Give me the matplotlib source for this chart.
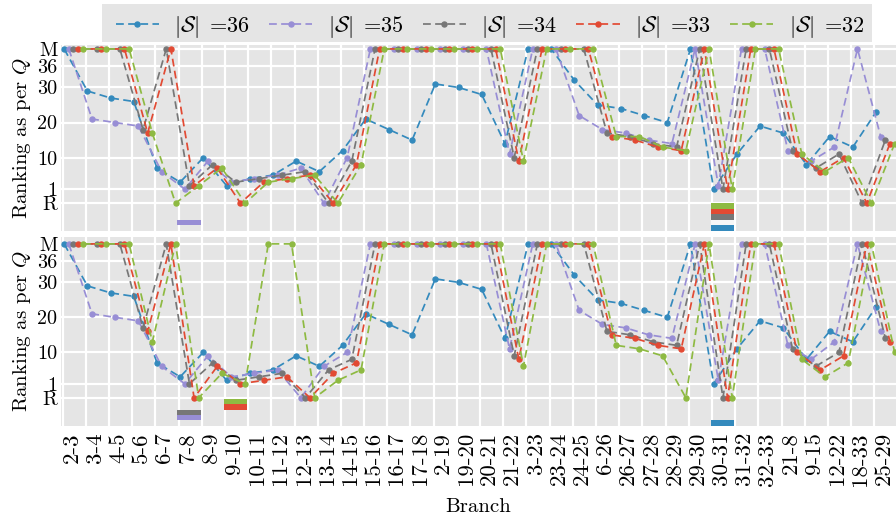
import matplotlib
matplotlib.use("Agg")
import matplotlib.pyplot as plt
from matplotlib.patches import Rectangle
import numpy as np

plt.style.use("ggplot")
plt.rcParams["font.family"] = ["cmr10", "DejaVu Serif"]
plt.rcParams["mathtext.fontset"] = "cm"
plt.rcParams["axes.unicode_minus"] = False
plt.rcParams["axes.formatter.use_mathtext"] = True

branches = ["2-3", "3-4", "4-5", "5-6", "6-7", "7-8", "8-9", "9-10", "10-11", "11-12",
            "12-13", "13-14", "14-15", "15-16", "16-17", "17-18", "2-19", "19-20", "20-21",
            "21-22", "3-23", "23-24", "24-25", "6-26", "26-27", "27-28", "28-29", "29-30",
            "30-31", "31-32", "32-33", "21-8", "9-15", "12-22", "18-33", "25-29"]

M = 41   # "M" level
R = -3   # "R" level

series_labels = [r"$|\mathcal{S}|\ \,$=36", r"$|\mathcal{S}|\ \,$=35", r"$|\mathcal{S}|\ \,$=34",
                 r"$|\mathcal{S}|\ \,$=33", r"$|\mathcal{S}|\ \,$=32"]
colors = ["#348ABD", "#988ED5", "#777777", "#E24A33", "#8EBA42"]

# ---- upper panel ----
top_s36 = [M, 29, 27, 26, 7, 3, 10, 2, 4, 5, 9, 6, 12, 21, 18, 15, 31, 30, 28, 14, M, M,
           32, 25, 24, 22, 20, M, 1, 11, 19, 17, 8, 16, 13, 23]
top_s35 = [M, 21, 20, 19, 6, 1, 9, 3, 4, 5, 7, R, 10, M, M, M, M, M, M, 11, M, M,
           22, 18, 17, 15, 14, M, 2, M, M, 12, 9, 13, M, 16]
top_s34 = [M, M, M, 18, M, 2, 8, 3, 4, 5, 6, R, 9, M, M, M, M, M, M, 10, M, M,
           M, 17, 16, 14, 13, M, 1, M, M, 12, 7, 11, R, 15]
top_s33 = [M, M, M, 17, M, 2, 7, R, 3, 4, 5, R, 8, M, M, M, M, M, M, 9, M, M,
           M, 16, 15, 13, 12, M, 1, M, M, 11, 6, 10, R, 14]
top_s32 = [M, M, M, 17, R, 2, 7, R, 3, 4, 5, R, 8, M, M, M, M, M, M, 9, M, M,
           M, 16, 16, 13, 12, M, 1, M, M, 11, 6, 10, R, 14]

# ---- lower panel ----
bot_s36 = [M, 29, 27, 26, 7, 3, 10, 2, 4, 5, 9, 6, 12, 21, 18, 15, 31, 30, 28, 14, M, M,
           32, 25, 24, 22, 20, M, 1, 11, 19, 17, 8, 16, 13, 23]
bot_s35 = [M, 21, 20, 19, 6, 1, 9, 3, 4, 5, R, 6, 10, M, M, M, M, M, M, 11, M, M,
           22, 18, 17, 15, 14, M, 2, M, M, 12, 8, 13, M, 16]
bot_s34 = [M, M, M, 17, M, 1, 7, 2, 3, 4, R, 5, 8, M, M, M, M, M, M, 9, M, M,
           M, 16, 15, 13, 12, M, R, M, M, 11, 6, 10, M, 14]
bot_s33 = [M, M, M, 16, M, R, 6, 1, 2, 3, R, 4, 7, M, M, M, M, M, M, 8, M, M,
           M, 15, 14, 12, 11, M, R, M, M, 10, 5, 9, M, 13]
bot_s32 = [M, M, M, 13, M, R, 4, 1, M, M, R, 2, 5, M, M, M, M, M, M, 6, M, M,
           M, 12, 11, 9, R, M, R, M, M, 8, 3, 7, M, 10]

# faint marker slots (series index, branch index) in the upper panel
top_faint = [(1, 28)]

ytick_vals = [R, 1, 10, 20, 30, 36, M]
ytick_labels = ["R", "1", "10", "20", "30", "36", "M"]

fig = plt.figure(figsize=(8.96, 5.18), dpi=100)
ax1 = fig.add_axes([0.068, 0.555, 0.932, 0.358])
ax2 = fig.add_axes([0.068, 0.178, 0.932, 0.364])

x = np.arange(len(branches))
offsets = [0.07 + 0.2 * k for k in range(5)]
bar_h = 1.55


def draw(ax, data, ylim, faint=()):
    ax.set_facecolor("#E5E5E5")
    handles = []
    for k, (vals, c, lab) in enumerate(zip(data, colors, series_labels)):
        h, = ax.plot(x + offsets[k], vals, linestyle="--", color=c, marker="o",
                     markersize=3.6, linewidth=1.25, label=lab, dashes=(4.5, 2.5))
        handles.append(h)
        # hit bars where rank == 1 (blue lowest, green highest)
        level = k
        for i, v in enumerate(vals):
            if v == 1:
                ax.bar(i - 0.05, bar_h, width=1.0, bottom=ylim[0] + bar_h * level,
                       align="edge", color=c, edgecolor="none", zorder=3)
    for k, i in faint:
        level = k
        ax.bar(i - 0.05, bar_h, width=1.0, bottom=ylim[0] + bar_h * level,
               align="edge", color="#F7F7F7", edgecolor="none", zorder=3)
    ax.set_ylim(*ylim)
    ax.set_xlim(-0.07, 35.93)
    ax.set_yticks(ytick_vals)
    ax.set_yticklabels(ytick_labels)
    ax.set_xticks(x)
    ax.set_xticklabels([])
    ax.set_xticks(x + 0.4, minor=True)
    ax.grid(True, which="major", color="white", linewidth=1.6)
    ax.grid(False, which="minor")
    ax.tick_params(axis="y", which="both", length=0, colors="black",
                   labelsize=14.5, pad=2.5)
    ax.tick_params(axis="x", which="both", length=0, colors="black",
                   labelsize=16.5, pad=4.5)
    ax.set_ylabel(r"Ranking as per $Q$", fontsize=15, color="black", labelpad=3)
    for s in ax.spines.values():
        s.set_visible(False)
    ax.set_axisbelow(True)
    return handles


handles = draw(ax1, [top_s36, top_s35, top_s34, top_s33, top_s32], (-10.8, 42.1), top_faint)
draw(ax2, [bot_s36, bot_s35, bot_s34, bot_s33, bot_s32], (-11.0, 42.9))

ax1.set_xticklabels([], minor=True)
ax2.set_xticklabels(branches, minor=True, rotation=90)
ax2.set_xlabel("Branch", fontsize=15, color="black", labelpad=9)

# legend background box
fig.patches.append(Rectangle((102 / 896, 1 - 42 / 518), 770 / 896, 38 / 518,
                             transform=fig.transFigure, facecolor="#E5E5E5",
                             edgecolor="none", zorder=0))
leg = fig.legend(handles=handles, loc="upper center", bbox_to_anchor=(0.547, 0.995),
                 ncol=5, fontsize=16, frameon=False,
                 columnspacing=0.84, handlelength=1.95, handletextpad=0.7,
                 borderpad=0.3, borderaxespad=0.2)
for t in leg.get_texts():
    t.set_color("black")

fig.savefig("out.png", dpi=100)
